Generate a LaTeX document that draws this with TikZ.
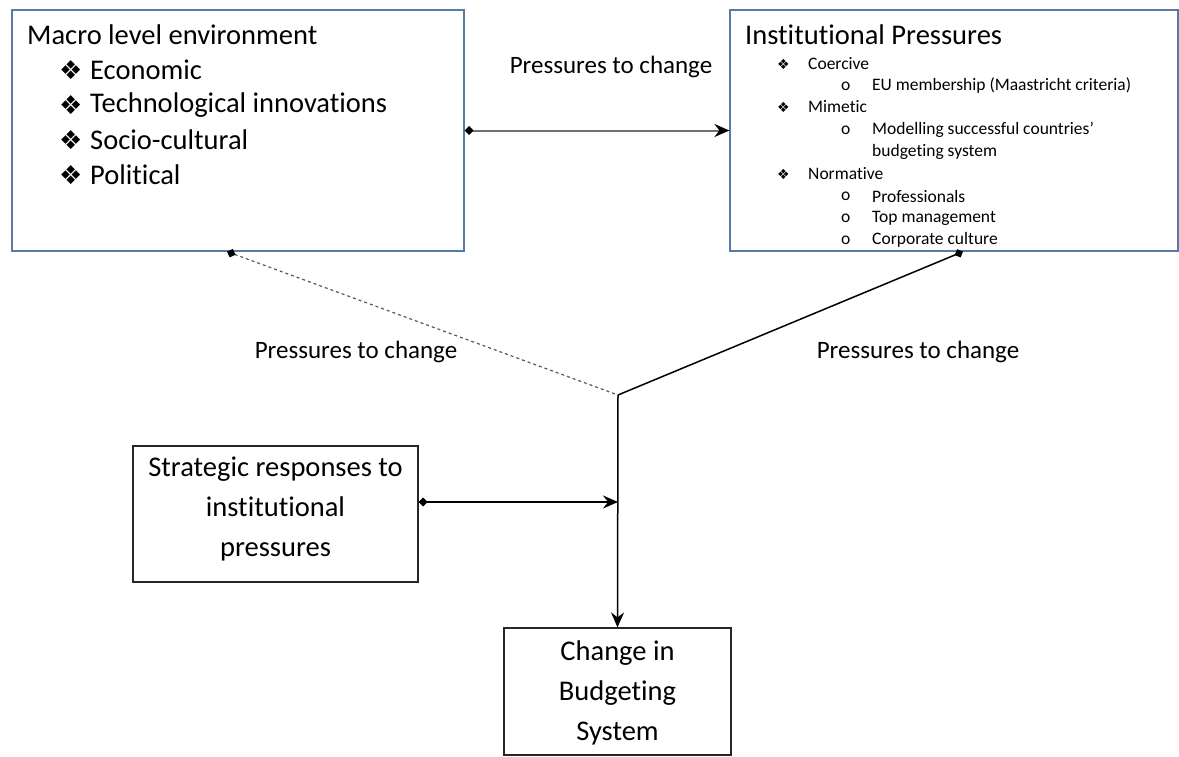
\documentclass[tikz,border=0pt]{standalone}
\usepackage{fontspec}
\setmainfont[Ligatures=NoCommon]{Carlito}
\newfontfamily\symfont{DejaVu Sans}
\usetikzlibrary{arrows.meta}
\definecolor{boxblue}{HTML}{5A7AA6}
\definecolor{linegrey}{HTML}{707070}
\newcommand{\dia}{{\symfont\char"2756}}
\begin{document}
\begin{tikzpicture}[x=1pt,y=-1pt,
  bigfont/.style={font=\fontsize{28.5}{35}\selectfont},
  bulfont/.style={font=\fontsize{26}{30}\selectfont},
  midfont/.style={font=\fontsize{28.5}{40}\selectfont},
  lblfont/.style={font=\fontsize{25}{30}\selectfont},
  smallfont/.style={font=\fontsize{17.5}{20}\selectfont},
  sbulfont/.style={font=\fontsize{14}{16}\selectfont},
  bluebox/.style={draw=boxblue,line width=1.2pt,inner sep=0pt},
  blackbox/.style={draw=black!85,line width=1.2pt,inner sep=0pt},
  txt/.style={inner sep=0pt,anchor=west},
  headtip/.tip={Stealth[length=15pt,width=13pt,inset=5pt,black]},
  tailtip/.tip={Diamond[length=9pt,width=9pt,black]},
  link/.style={line width=1.5pt}]
\useasboundingbox (0,0) rectangle (1179,756);

% boxes
\node[bluebox,minimum width=452pt,minimum height=241pt] (macro) at (238,130.5) {};
\node[bluebox,minimum width=448pt,minimum height=241pt] (inst) at (954,130.5) {};
\node[blackbox,minimum width=285pt,minimum height=136pt] (strat) at (275.5,514) {};
\node[blackbox,minimum width=227pt,minimum height=127pt] (chg) at (617.5,691.5) {};

% macro level environment
\node[txt,bigfont] (mt) at (27,35) {Macro level environment};
\node[txt,bulfont] (mb1) at (59,70) {\dia};
\node[txt,bigfont] (m1) at (90,70) {Economic};
\node[txt,bulfont] (mb2) at (59,105) {\dia};
\node[txt,bigfont] (m2) at (90,105) {Technological innovations};
\node[txt,bulfont] (mb3) at (59,140) {\dia};
\node[txt,bigfont] (m3) at (90,140) {Socio-cultural};
\node[txt,bulfont] (mb4) at (59,175) {\dia};
\node[txt,bigfont] (m4) at (90,175) {Political};

% institutional pressures
\node[txt,bigfont] (it) at (745,35) {Institutional Pressures};
\node[txt,sbulfont] (b1) at (777,64) {\dia};
\node[txt,smallfont] (i1) at (808,64) {Coercive};
\node[txt,smallfont] (c1) at (841,86) {o};
\node[txt,smallfont] (i2) at (872,86) {EU membership (Maastricht criteria)};
\node[txt,sbulfont] (b2) at (777,107) {\dia};
\node[txt,smallfont] (i3) at (808,107) {Mimetic};
\node[txt,smallfont] (c2) at (841,130) {o};
\node[txt,smallfont] (i4) at (872,130) {Modelling successful countries’};
\node[txt,smallfont] (i5) at (872,152) {budgeting system};
\node[txt,sbulfont] (b3) at (777,174) {\dia};
\node[txt,smallfont] (i6) at (808,174) {Normative};
\node[txt,smallfont] (c3) at (841,196) {o};
\node[txt,smallfont] (i7) at (872,196) {Professionals};
\node[txt,smallfont] (c4) at (841,218) {o};
\node[txt,smallfont] (i8) at (872,218) {Top management};
\node[txt,smallfont] (c5) at (841,240) {o};
\node[txt,smallfont] (i9) at (872,240) {Corporate culture};

% lower boxes
\node[midfont,align=center,inner sep=0pt] (st) at (275.5,509) {Strategic responses to\\institutional\\pressures};
\node[midfont,align=center,inner sep=0pt] (ct) at (617.5,693) {Change in\\Budgeting\\System};

% labels
\node[lblfont,inner sep=0pt] (l1) at (611,67) {Pressures to change};
\node[lblfont,inner sep=0pt] (l2) at (356,352) {Pressures to change};
\node[lblfont,inner sep=0pt] (l3) at (918,352) {Pressures to change};

% connectors
\coordinate (J) at (618,395);
\coordinate (mb) at ([xshift=-11pt]macro.south);
\coordinate (ib) at ([xshift=9pt]inst.south);
\coordinate (se) at ([yshift=12pt]strat.east);
\draw[link,line width=2pt,draw=linegrey,tailtip-headtip] (macro.east) -- (inst.west);
\draw[dashed,draw=black!65,line width=1.2pt,tailtip-] (mb) -- (J);
\draw[link,tailtip-] (ib) -- (J);
\draw[link,tailtip-headtip] (se) -- (se -| J);
\draw[link,-headtip] (J) -- (chg.north);
\end{tikzpicture}
\end{document}
